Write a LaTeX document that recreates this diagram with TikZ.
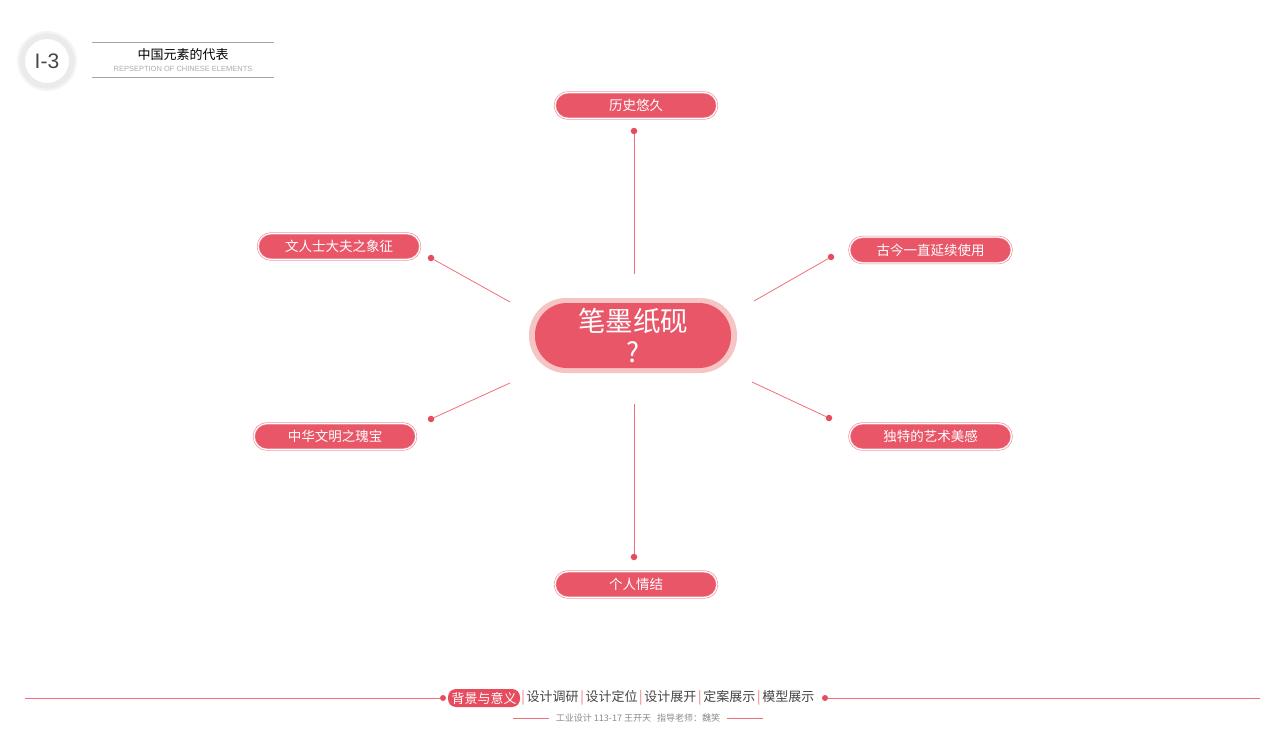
\documentclass[tikz,border=0pt]{standalone}
\usepackage{fontspec}
\setmainfont{Noto Sans CJK SC}
\newfontfamily\cjk{Noto Sans CJK SC}
\newfontfamily\latin{Liberation Sans}
\definecolor{boxred}{HTML}{E85668}
\definecolor{ringpink}{HTML}{F6C4C3}
\definecolor{linered}{HTML}{EF6F78}
\definecolor{dotred}{HTML}{E64B5E}
\definecolor{navgray}{HTML}{444444}
\definecolor{subgray}{HTML}{8A8A8A}
\newcommand{\navbar}{\hspace{1.7pt}\textcolor{linered}{|}\hspace{1.7pt}}
\tikzset{
  topic/.style={draw=boxred!70, line width=0.6pt, double=white, double distance=1.2pt,
    fill=boxred, rounded corners=13pt, minimum width=162pt, minimum height=26pt,
    text=white, font=\cjk\fontsize{13.5}{13.5}\selectfont, inner sep=0pt},
  dotnode/.style={circle, fill=dotred, inner sep=0pt, minimum size=6.5pt},
  link/.style={linered, line width=0.8pt}
}
\begin{document}
\begin{tikzpicture}[x=1pt,y=-1pt]
\useasboundingbox (0,0) rectangle (1280,731);
% header
\draw[gray!16, line width=6pt] (47,61) circle (25);
\draw[gray!9, line width=2pt] (47,61) circle (29);
\node[font=\latin\fontsize{21}{21}\selectfont, text=gray!55!black] (logo) at (47,61) {I-3};
\draw[gray!70, line width=0.6pt] (92,42) -- (274,42);
\draw[gray!70, line width=0.6pt] (92,77) -- (274,77);
\node[font=\cjk\fontsize{13}{13}\selectfont, text=black] (title) at (183,55) {中国元素的代表};
\node[font=\latin\fontsize{7.5}{7.5}\selectfont, text=gray!65] (subtitle) at (183,69) {REPSEPTION OF CHINESE ELEMENTS};
% center
\node[fill=ringpink, rounded corners=37pt, minimum width=208pt, minimum height=75pt] (ring) at (633,335.5) {};
\node[fill=boxred, rounded corners=32pt, minimum width=196pt, minimum height=65pt, text=white, align=center,
  font=\cjk\fontsize{27.5}{31}\selectfont, inner sep=0pt] (center) at (633,335.5) {笔墨纸砚\\?};
% topics
\node[topic] (t1) at (636,105.5) {历史悠久};
\node[topic] (t2) at (339,246.5) {文人士大夫之象征};
\node[topic] (t3) at (930.5,250) {古今一直延续使用};
\node[topic] (t4) at (335,436.5) {中华文明之瑰宝};
\node[topic] (t5) at (930.5,436.5) {独特的艺术美感};
\node[topic] (t6) at (636,584.5) {个人情结};
% dots and connectors
\node[dotnode] (d1) at (634,131) {};
\node[dotnode] (d2) at (431,258) {};
\node[dotnode] (d3) at (831,257) {};
\node[dotnode] (d4) at (431,419) {};
\node[dotnode] (d5) at (829,418) {};
\node[dotnode] (d6) at (634,557) {};
\coordinate (e1) at (634,274);
\coordinate (e2) at (510,302);
\coordinate (e3) at (754,301);
\coordinate (e4) at (510,383);
\coordinate (e5) at (752,382);
\coordinate (e6) at (634,404);
\draw[link] (d1) -- (e1);
\draw[link] (d2) -- (e2);
\draw[link] (d3) -- (e3);
\draw[link] (d4) -- (e4);
\draw[link] (d5) -- (e5);
\draw[link] (d6) -- (e6);
% bottom nav
\node[dotnode, minimum size=6pt] (nl) at (443,698) {};
\node[dotnode, minimum size=6pt] (nr) at (825,698) {};
\coordinate (ll) at (25,698);
\coordinate (lr) at (1260,698);
\draw[linered, line width=0.7pt] (ll) -- (nl);
\draw[linered, line width=0.7pt] (nr) -- (lr);
\node[fill=dotred, rounded corners=8pt, minimum width=72pt, minimum height=18pt, inner sep=0pt,
  text=white, font=\cjk\fontsize{13}{13}\selectfont] (nav1) at (484,698) {背景与意义};
\node[anchor=west, inner sep=0pt, text=navgray, font=\cjk\fontsize{13}{13}\selectfont] (nav2) at (519.5,698)
  {\navbar 设计调研\navbar 设计定位\navbar 设计展开\navbar 定案展示\navbar 模型展示};
\node[text=subgray, font=\cjk\fontsize{9}{9}\selectfont, inner sep=0pt] (credit) at (638,718)
  {工业设计 113-17 王开天\hspace{6pt}指导老师：魏笑};
\coordinate (cl1) at (513,718);
\coordinate (cl2) at (549,718);
\coordinate (cr1) at (727,718);
\coordinate (cr2) at (763,718);
\draw[linered, line width=0.6pt] (cl1) -- (cl2);
\draw[linered, line width=0.6pt] (cr1) -- (cr2);
\end{tikzpicture}
\end{document}
